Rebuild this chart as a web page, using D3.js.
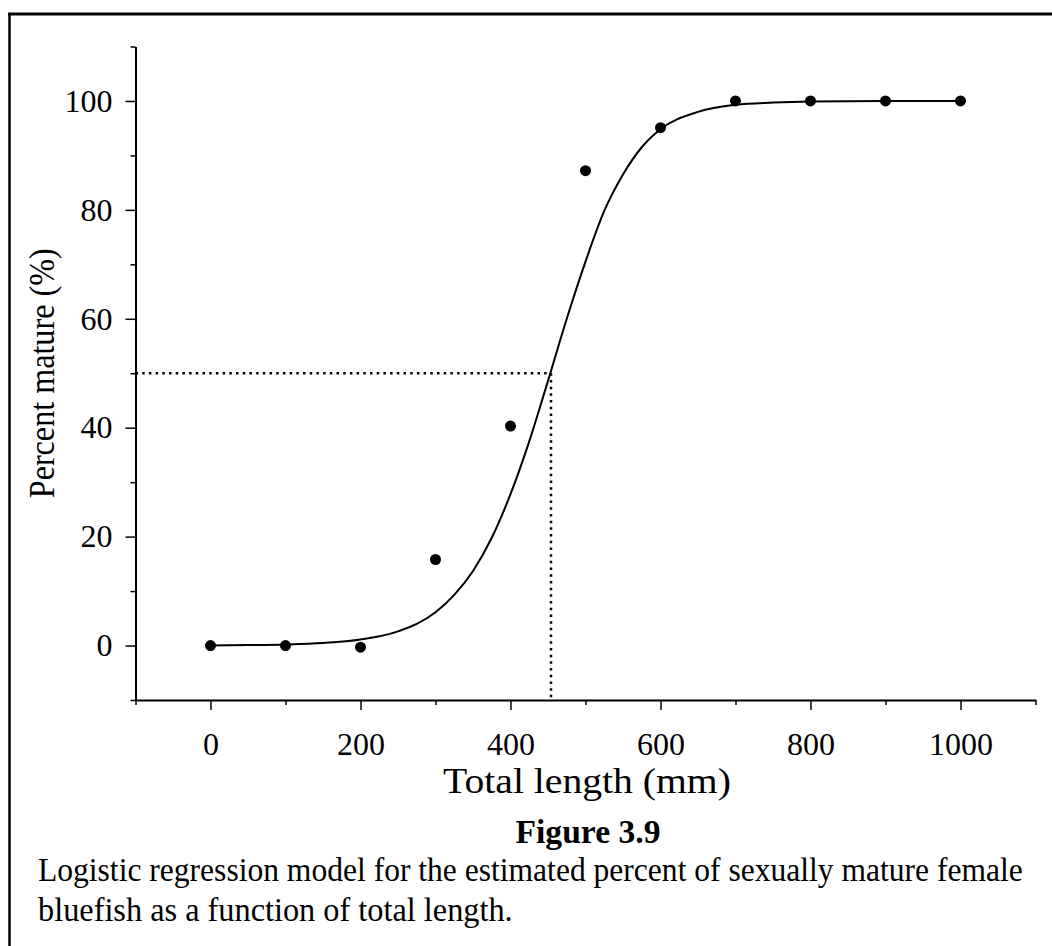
<!DOCTYPE html>
<html>
<head>
<meta charset="utf-8">
<script src="https://cdn.jsdelivr.net/npm/d3@7"></script>
<style>
  html, body { margin: 0; padding: 0; background: #fff; }
  svg { display: block; }
  text { font-family: "Liberation Serif", "Times New Roman", serif; fill: #000; }
</style>
</head>
<body>
<svg id="chart" width="1052" height="946"></svg>
<script>
// Observed maturity by length class (mm, percent mature)
const lengthClasses = [0, 100, 200, 300, 400, 500, 600, 700, 800, 900, 1000];
const percentMature = [0, 0, -0.3, 15.8, 40.3, 87.2, 95.1, 100, 100, 100, 100];

// Fitted logistic curve, sampled along length
const curveLength = [0, 50, 100, 150, 200, 250, 300, 325, 350, 375, 400, 425, 450, 475, 500, 525, 550, 575, 600, 650, 700, 750, 800, 900, 1000];
const curvePercent = [0.03, 0.08, 0.19, 0.46, 1.1, 2.6, 6.1, 9.3, 13.7, 19.8, 27.8, 37.5, 48.6, 60.0, 70.5, 79.8, 86.5, 91.5, 94.8, 98.0, 99.3, 99.7, 99.9, 100, 100];

// Length at 50% maturity
const l50 = [454, 50];

const xMajorTicks = [0, 200, 400, 600, 800, 1000];
const xMinorTicks = [-100, 100, 300, 500, 700, 900, 1100];
const yMajorTicks = [0, 20, 40, 60, 80, 100];
const yMinorTicks = [-10, 10, 30, 50, 70, 90, 110];

const svg = d3.select("#chart");

const x = d3.scaleLinear().domain([-100, 1100]).range([135.5, 1035.5]);
const y = d3.scaleLinear().domain([-10, 110]).range([700, 46.5]);

// Places a text so that its run spans the given width, condensing glyphs horizontally
function fitText(content, opts) {
  const t = svg.append("text").style("font-size", opts.size + "px")
    .style("font-weight", opts.bold ? "bold" : "normal").text(content);
  const natural = t.node().getComputedTextLength();
  const s = opts.width / natural;
  const offset = opts.anchor === "middle" ? -opts.width / 2 : 0;
  const rot = opts.rotate ? ` rotate(${opts.rotate})` : "";
  t.attr("transform", `translate(${opts.x},${opts.y})${rot} translate(${offset},0) scale(${s},1)`);
  return t;
}

// Page frame (top and left edges)
svg.append("line").attr("x1", 8).attr("x2", 1052).attr("y1", 14).attr("y2", 14)
  .attr("stroke", "#000").attr("stroke-width", 3);
svg.append("line").attr("x1", 9.5).attr("x2", 9.5).attr("y1", 13).attr("y2", 946)
  .attr("stroke", "#000").attr("stroke-width", 2.5);

// Axes
const xAxisG = svg.append("g").attr("transform", `translate(0,${y(-10)})`);
xAxisG.call(d3.axisBottom(x).tickValues(xMajorTicks).tickFormat(d3.format("d"))
  .tickSize(10).tickPadding(22).tickSizeOuter(0));
xAxisG.append("g").call(d3.axisBottom(x).tickValues(xMinorTicks).tickSize(5).tickFormat("").tickSizeOuter(0))
  .select(".domain").remove();

const yAxisG = svg.append("g").attr("transform", `translate(${x(-100)},0)`);
yAxisG.call(d3.axisLeft(y).tickValues(yMajorTicks).tickFormat(d3.format("d"))
  .tickSize(10).tickPadding(13).tickSizeOuter(0));
yAxisG.append("g").call(d3.axisLeft(y).tickValues(yMinorTicks).tickSize(5).tickFormat("").tickSizeOuter(0))
  .select(".domain").remove();

svg.selectAll(".domain").attr("stroke", "#000").attr("stroke-width", 2);
svg.selectAll(".tick line").attr("stroke", "#000").attr("stroke-width", 1.5);
svg.selectAll(".tick text")
  .style("font-family", '"Liberation Serif", "Times New Roman", serif')
  .style("font-size", "32px").attr("fill", "#000");

// Reference lines at 50% maturity
const dotted = svg.append("g").attr("stroke", "#000").attr("stroke-width", 2.5)
  .attr("stroke-dasharray", "2.5,4.2").attr("fill", "none");
dotted.append("line").attr("x1", x(-100)).attr("x2", x(l50[0])).attr("y1", y(l50[1])).attr("y2", y(l50[1]));
dotted.append("line").attr("x1", x(l50[0])).attr("x2", x(l50[0])).attr("y1", y(l50[1])).attr("y2", y(-10));

// Logistic curve
const line = d3.line().x((d, i) => x(curveLength[i])).y(d => y(d)).curve(d3.curveMonotoneX);
svg.append("path").datum(curvePercent).attr("d", line)
  .attr("fill", "none").attr("stroke", "#000").attr("stroke-width", 2);

// Observed points
svg.append("g").selectAll("circle").data(percentMature).join("circle")
  .attr("cx", (d, i) => x(lengthClasses[i])).attr("cy", d => y(d)).attr("r", 5.5).attr("fill", "#000");

// Axis titles
fitText("Total length (mm)", { x: 587, y: 793, width: 288, anchor: "middle", size: 35 });
fitText("Percent mature (%)", { x: 54, y: y(50), width: 250, anchor: "middle", size: 35, rotate: -90 });

// Caption
fitText("Figure 3.9", { x: 588, y: 843, width: 145, anchor: "middle", size: 34, bold: true });
fitText("Logistic regression model for the estimated percent of sexually mature female",
  { x: 38, y: 881, width: 985, size: 34 });
fitText("bluefish as a function of total length.", { x: 38, y: 921, width: 475, size: 34 });
</script>
</body>
</html>
